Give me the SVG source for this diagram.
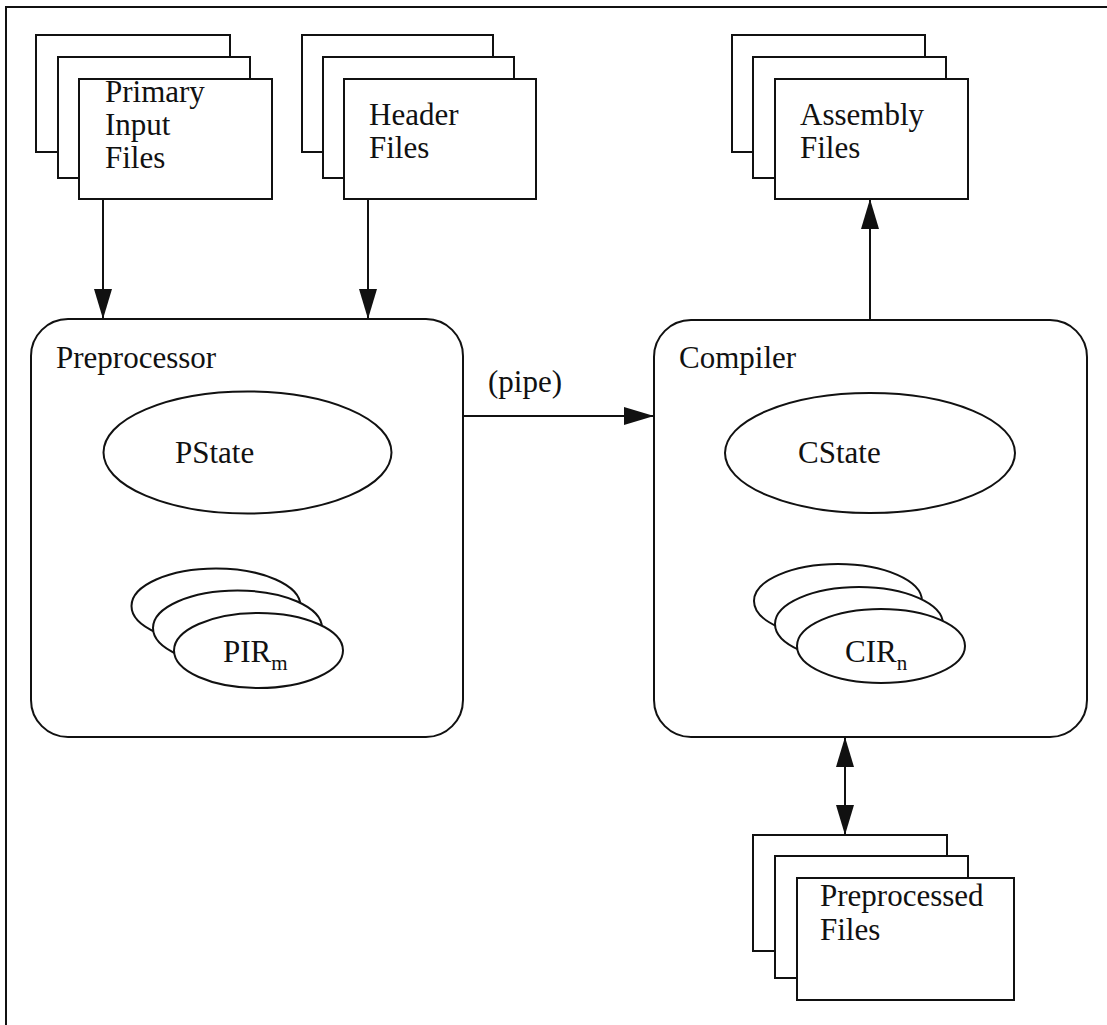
<svg xmlns="http://www.w3.org/2000/svg" width="1107" height="1025" viewBox="0 0 1107 1025">
<style>
.s{fill:#fff;stroke:#111;stroke-width:2}
.l{fill:none;stroke:#111;stroke-width:2}
.t{font-family:"Liberation Serif","Times New Roman",serif;font-size:31px;fill:#111}
.sub{font-size:21px}
</style>
<defs>
<marker id="ah" markerUnits="userSpaceOnUse" markerWidth="30" markerHeight="18" refX="30" refY="9" orient="auto-start-reverse">
<path d="M0,0 L30,9 L0,18 z" fill="#111"/>
</marker>
</defs>
<rect width="1107" height="1025" fill="#fff"/>
<path class="l" d="M6,1025 V7 H1107"/>

<g id="primary-input-files">
<rect class="s" x="36" y="35" width="194" height="117"/>
<rect class="s" x="58" y="57" width="192" height="121"/>
<rect class="s" x="79" y="79" width="193" height="120"/>
<text class="t" x="105" y="102">Primary</text>
<text class="t" x="105" y="135">Input</text>
<text class="t" x="105" y="168">Files</text>
</g>

<g id="header-files">
<rect class="s" x="302" y="35" width="191" height="117"/>
<rect class="s" x="323" y="57" width="191" height="121"/>
<rect class="s" x="344" y="79" width="192" height="120"/>
<text class="t" x="369" y="125">Header</text>
<text class="t" x="369" y="158">Files</text>
</g>

<g id="assembly-files">
<rect class="s" x="732" y="35" width="193" height="117"/>
<rect class="s" x="753" y="57" width="193" height="121"/>
<rect class="s" x="775" y="79" width="193" height="120"/>
<text class="t" x="800" y="125">Assembly</text>
<text class="t" x="800" y="158">Files</text>
</g>

<g id="preprocessor">
<rect class="s" x="31" y="319" width="432" height="418" rx="37" ry="37"/>
<text class="t" x="56" y="368">Preprocessor</text>
<g id="pstate">
<ellipse class="s" cx="247.5" cy="452.5" rx="144" ry="61"/>
<text class="t" x="175" y="463">PState</text>
</g>
<g id="pir">
<ellipse class="s" cx="216" cy="606" rx="84.5" ry="37.5"/>
<ellipse class="s" cx="237.5" cy="628" rx="84.5" ry="37.5"/>
<ellipse class="s" cx="258.5" cy="650.5" rx="84.5" ry="37.5"/>
<text class="t" x="223" y="662">PIR<tspan class="sub" dy="8">m</tspan></text>
</g>
</g>

<g id="compiler">
<rect class="s" x="654" y="320" width="433" height="417" rx="37" ry="37"/>
<text class="t" x="679" y="368">Compiler</text>
<g id="cstate">
<ellipse class="s" cx="870" cy="453" rx="145" ry="60"/>
<text class="t" x="798" y="463">CState</text>
</g>
<g id="cir">
<ellipse class="s" cx="838" cy="601" rx="84" ry="37"/>
<ellipse class="s" cx="859" cy="624" rx="84" ry="37"/>
<ellipse class="s" cx="881" cy="646" rx="84" ry="37"/>
<text class="t" x="845" y="662">CIR<tspan class="sub" dy="8">n</tspan></text>
</g>
</g>

<g id="preprocessed-files">
<rect class="s" x="753" y="835" width="194" height="116"/>
<rect class="s" x="775" y="856" width="193" height="122"/>
<rect class="s" x="797" y="878" width="217" height="122"/>
<text class="t" x="820" y="906">Preprocessed</text>
<text class="t" x="820" y="940">Files</text>
</g>

<g id="connectors">
<line class="l" x1="103" y1="199" x2="103" y2="319" marker-end="url(#ah)"/>
<line class="l" x1="368" y1="199" x2="368" y2="319" marker-end="url(#ah)"/>
<line class="l" x1="870" y1="320" x2="870" y2="199" marker-end="url(#ah)"/>
<line class="l" x1="463" y1="416" x2="654" y2="416" marker-end="url(#ah)"/>
<text class="t" x="488" y="392">(pipe)</text>
<line class="l" x1="845" y1="737" x2="845" y2="835" marker-start="url(#ah)" marker-end="url(#ah)"/>
</g>
</svg>
